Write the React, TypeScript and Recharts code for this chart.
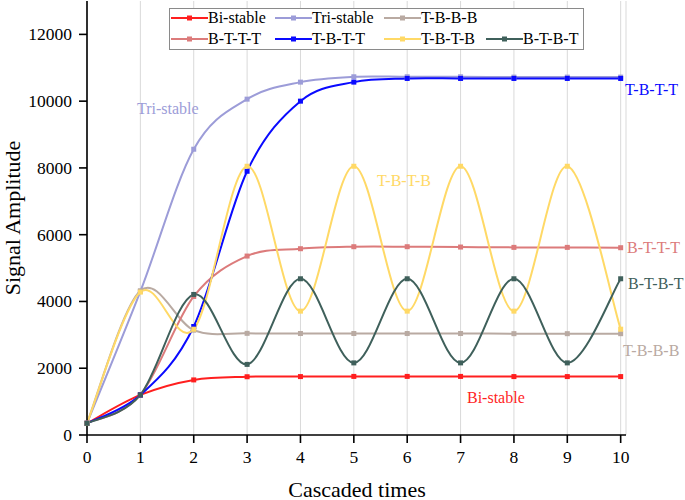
import React from 'react';
import { LineChart, Line, XAxis, YAxis, CartesianGrid, Legend } from 'recharts';

const cascades = [0, 1, 2, 3, 4, 5, 6, 7, 8, 9, 10];
const yTicks = [0, 2000, 4000, 6000, 8000, 10000, 12000];

const biStable = [350, 1200, 1650, 1745, 1750, 1755, 1755, 1755, 1750, 1750, 1750];
const triStable = [350, 4300, 8560, 10060, 10570, 10730, 10730, 10730, 10720, 10720, 10720];
const tbbb = [350, 4320, 3140, 3045, 3040, 3040, 3040, 3040, 3035, 3035, 3035];
const bttt = [350, 1200, 4150, 5360, 5580, 5640, 5640, 5630, 5620, 5620, 5610];
const tbtt = [350, 1200, 3250, 7900, 10000, 10570, 10680, 10680, 10680, 10680, 10680];
const tbtb = [350, 4280, 3170, 8050, 3710, 8050, 3710, 8050, 3710, 8050, 3170];
const btbt = [350, 1200, 4210, 2115, 4680, 2160, 4680, 2160, 4680, 2160, 4680];

const FONT = '"Liberation Serif", "Times New Roman", serif';

const series = [
  { key: 'bi', name: 'Bi-stable', color: '#ff1f1f', values: biStable },
  { key: 'tri', name: 'Tri-stable', color: '#9c9cd8', values: triStable },
  { key: 'tbbb', name: 'T-B-B-B', color: '#b9aaa2', values: tbbb },
  { key: 'bttt', name: 'B-T-T-T', color: '#dc7b7b', values: bttt },
  { key: 'tbtt', name: 'T-B-T-T', color: '#0a0aff', values: tbtt },
  { key: 'tbtb', name: 'T-B-T-B', color: '#ffd966', values: tbtb },
  { key: 'btbt', name: 'B-T-B-T', color: '#3f605b', values: btbt },
];

const data = cascades.map((x, i) => {
  const row: Record<string, number> = { x };
  series.forEach(s => {
    row[s.key] = s.values[i];
  });
  return row;
});

// legend grid: [row, col] per series
const legendPos: Record<string, [number, number]> = {
  bi: [0, 0], tri: [0, 1], tbbb: [0, 2],
  bttt: [1, 0], tbtt: [1, 1], tbtb: [1, 2], btbt: [1, 3],
};
const colX = [1, 105, 214, 316];
const rowY = [9, 30];

const annotations = [
  { text: 'Tri-stable', color: '#9c9cd8', x: 137, y: 108 },
  { text: 'T-B-T-B', color: '#ffd966', x: 377, y: 180 },
  { text: 'T-B-T-T', color: '#0a0aff', x: 625, y: 89 },
  { text: 'B-T-T-T', color: '#dc7b7b', x: 627, y: 247 },
  { text: 'B-T-B-T', color: '#3f605b', x: 628, y: 283 },
  { text: 'T-B-B-B', color: '#b9aaa2', x: 623, y: 350 },
  { text: 'Bi-stable', color: '#ff1f1f', x: 467, y: 397 },
];

// catmull-rom style spline (passes through points, end tangents from first/last chord)
const splineCurve = (context: any) => {
  let xs: number[] = [];
  let ys: number[] = [];
  return {
    areaStart() {},
    areaEnd() {},
    lineStart() {
      xs = [];
      ys = [];
    },
    point(x: number, y: number) {
      xs.push(+x);
      ys.push(+y);
    },
    lineEnd() {
      const n = xs.length;
      if (!n) return;
      context.moveTo(xs[0], ys[0]);
      if (n === 1) return;
      for (let i = 0; i < n - 1; i++) {
        const a = Math.max(i - 1, 0);
        const d = Math.min(i + 2, n - 1);
        const c1x = xs[i] + (xs[i + 1] - xs[a]) / 6;
        const c1y = ys[i] + (ys[i + 1] - ys[a]) / 6;
        const c2x = xs[i + 1] - (xs[d] - xs[i]) / 6;
        const c2y = ys[i + 1] - (ys[d] - ys[i]) / 6;
        context.bezierCurveTo(c1x, c1y, c2x, c2y, xs[i + 1], ys[i + 1]);
      }
    },
  };
};

const squareDot = (color: string) => (props: any) => (
  <rect
    key={`dot-${props.index}`}
    x={props.cx - 2.5}
    y={props.cy - 2.5}
    width={5}
    height={5}
    fill={color}
  />
);

const XTick = (props: any) => (
  <text x={props.x} y={props.y} dy="0.71em" textAnchor="middle" fontFamily={FONT} fontSize={17.5} fill="#000">
    {props.payload.value}
  </text>
);

const YTick = (props: any) => (
  <text x={props.x} y={props.y} dy="0.34em" textAnchor="end" fontFamily={FONT} fontSize={17.5} fill="#000">
    {props.payload.value}
  </text>
);

const LegendBox = () => (
  <div
    style={{
      position: 'relative',
      width: 413,
      height: 40,
      border: '1px solid #8a8a8a',
      background: '#fff',
      fontFamily: FONT,
      fontSize: 16,
      color: '#000',
    }}
  >
    {series.map(s => {
      const [r, c] = legendPos[s.key];
      return (
        <div
          key={s.key}
          style={{
            position: 'absolute',
            left: colX[c],
            top: rowY[r],
            transform: 'translateY(-50%)',
            display: 'flex',
            alignItems: 'center',
            whiteSpace: 'nowrap',
            lineHeight: 1,
          }}
        >
          <svg width={37} height={8}>
            <line x1={0} y1={4} x2={37} y2={4} stroke={s.color} strokeWidth={2} />
            <rect x={16} y={1.5} width={5} height={5} fill={s.color} />
          </svg>
          <span>{s.name}</span>
        </div>
      );
    })}
  </div>
);

const App: React.FC = () => {
  return (
    <div
      style={{
        position: 'relative',
        width: 685,
        height: 500,
        background: '#fff',
        fontFamily: FONT,
      }}
    >
      <style>{'html, body { margin: 0; padding: 0; }'}</style>
      <LineChart
        width={685}
        height={500}
        data={data}
        margin={{ top: 1, right: 59, bottom: 0, left: 0 }}
        style={{ fontFamily: FONT }}
      >
        <CartesianGrid horizontal={false} stroke="#d9d9d9" strokeWidth={1} />
        <XAxis
          dataKey="x"
          type="number"
          domain={[0, 10.1]}
          ticks={cascades}
          height={65}
          tickSize={8}
          tickMargin={8}
          stroke="#000"
          strokeWidth={1.6}
          tick={<XTick />}
        />
        <YAxis
          type="number"
          domain={[0, 13000]}
          ticks={yTicks}
          width={87}
          tickSize={8}
          tickMargin={7}
          stroke="#000"
          strokeWidth={1.6}
          tick={<YTick />}
        />
        <Legend
          layout="horizontal"
          verticalAlign="middle"
          align="center"
          wrapperStyle={{ top: 8, left: 169, width: 415 }}
          content={() => <LegendBox />}
        />
        {series.map(s => (
          <Line
            key={s.key}
            dataKey={s.key}
            name={s.name}
            type={splineCurve as any}
            stroke={s.color}
            strokeWidth={2}
            dot={squareDot(s.color)}
            activeDot={false}
            isAnimationActive={false}
          />
        ))}
      </LineChart>
      <svg
        width={685}
        height={500}
        style={{ position: 'absolute', left: 0, top: 0, pointerEvents: 'none' }}
      >
        {annotations.map(a => (
          <text
            key={a.text}
            x={a.x}
            y={a.y}
            fill={a.color}
            fontFamily={FONT}
            fontSize={16}
            dominantBaseline="central"
          >
            {a.text}
          </text>
        ))}
        <text
          x={12}
          y={218}
          fontFamily={FONT}
          fontSize={22}
          textAnchor="middle"
          dominantBaseline="central"
          transform="rotate(-90 12 218)"
        >
          Signal Amplitude
        </text>
        <text
          x={357}
          y={489}
          fontFamily={FONT}
          fontSize={22}
          textAnchor="middle"
          dominantBaseline="central"
        >
          Cascaded times
        </text>
      </svg>
    </div>
  );
};

export default App;
